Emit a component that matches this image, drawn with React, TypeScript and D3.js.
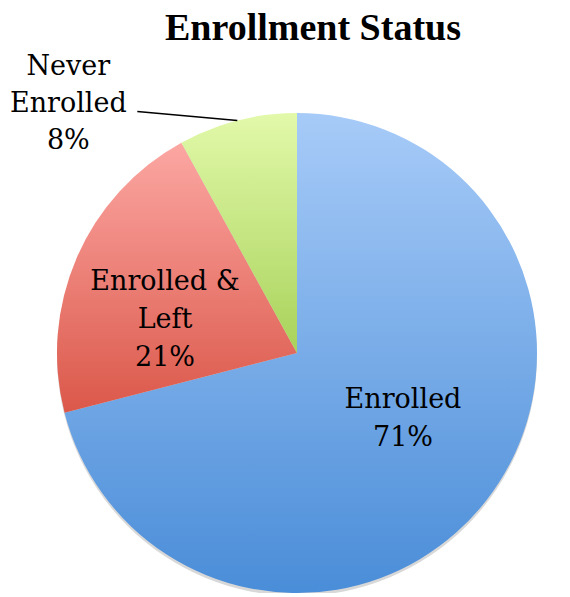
import { useEffect, useRef } from "react"
import * as d3 from "d3"

const categories = ["Enrolled", "Enrolled & Left", "Never Enrolled"]
const values = [71, 21, 8]
const labelLines = [["Enrolled", "71%"], ["Enrolled &", "Left", "21%"], ["Never", "Enrolled", "8%"]]
const topColors = ["#a7cbf8", "#fca7a3", "#e2f9aa"]
const bottomColors = ["#4a8dd8", "#db584a", "#a8d25a"]

export default function App() {
  const svgRef = useRef<SVGSVGElement>(null)

  useEffect(() => {
    if (!svgRef.current) return
    const width = 570
    const height = 597
    const cx = 297
    const cy = 353
    const radius = 240
    const titleFont = "'Liberation Serif', serif"
    const labelFont = "'DejaVu Serif', serif"

    const svg = d3.select(svgRef.current)
    svg.selectAll("*").remove()
    svg.attr("width", width).attr("height", height)

    // Gradients, one per slice
    const defs = svg.append("defs")
    categories.forEach((c, i) => {
      const g = defs
        .append("linearGradient")
        .attr("id", `grad-${i}`)
        .attr("x1", 0).attr("y1", 0).attr("x2", 0).attr("y2", 1)
      g.append("stop").attr("offset", "0%").attr("stop-color", topColors[i])
      g.append("stop").attr("offset", "100%").attr("stop-color", bottomColors[i])
    })

    // Title
    svg
      .append("text")
      .attr("x", 313)
      .attr("y", 40)
      .attr("text-anchor", "middle")
      .style("font-family", titleFont)
      .style("font-weight", "bold")
      .style("font-size", "38px")
      .text("Enrollment Status")

    const pie = d3.pie<number>().sort(null).value((d) => d)
    const arcs = pie(values)
    const arc = d3.arc<d3.PieArcDatum<number>>().innerRadius(0).outerRadius(radius)

    const g = svg.append("g").attr("transform", `translate(${cx},${cy})`)

    // subtle shadow
    g.append("circle")
      .attr("cx", 0)
      .attr("cy", 3)
      .attr("r", radius)
      .attr("fill", "#d8d8d8")

    g.selectAll("path.slice")
      .data(arcs)
      .enter()
      .append("path")
      .attr("class", "slice")
      .attr("d", arc)
      .attr("fill", (d, i) => `url(#grad-${i})`)

    // label placement
    const labelArc = d3.arc<d3.PieArcDatum<number>>().innerRadius(0).outerRadius(0)
    const insideOffsets: [number, number][] = [[106, 64], [-132, -35]]
    const lineH = 38

    arcs.slice(0, 2).forEach((a, i) => {
      const lines = labelLines[i]
      const [ox, oy] = insideOffsets[i]
      const [bx, by] = labelArc.centroid(a)
      const text = g
        .append("text")
        .attr("text-anchor", "middle")
        .style("font-family", labelFont)
        .style("font-size", "27px")
        .attr("fill", "#000")
      lines.forEach((l, j) => {
        text
          .append("tspan")
          .attr("x", bx + ox)
          .attr("y", by + oy + (j - (lines.length - 1) / 2) * lineH + 10)
          .text(l)
      })
    })

    // outside label with leader line
    const outer = arcs[2]
    const edge = d3.arc<d3.PieArcDatum<number>>().innerRadius(radius).outerRadius(radius).centroid(outer)
    const lineEnd: [number, number] = [edge[0] - 100, edge[1] - 9]
    g.append("line")
      .attr("x1", edge[0])
      .attr("y1", edge[1])
      .attr("x2", lineEnd[0])
      .attr("y2", lineEnd[1])
      .attr("stroke", "#000")
      .attr("stroke-width", 1.5)
    const outText = g
      .append("text")
      .attr("text-anchor", "middle")
      .style("font-family", labelFont)
      .style("font-size", "27px")
    labelLines[2].forEach((l, j) => {
      outText
        .append("tspan")
        .attr("x", lineEnd[0] - 69)
        .attr("y", lineEnd[1] - 10 + (j - 1) * 37 + 10)
        .text(l)
    })
  }, [])

  return (
    <div style={{ margin: -8 }}>
      <svg ref={svgRef} />
    </div>
  )
}
